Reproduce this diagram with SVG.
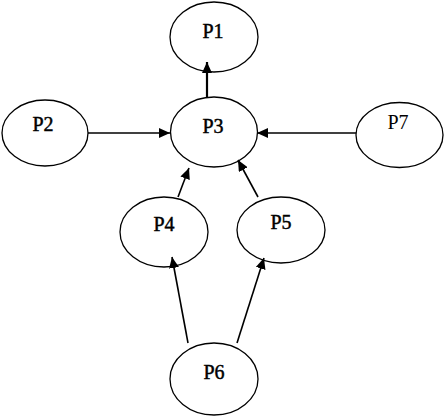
<svg xmlns="http://www.w3.org/2000/svg" width="444" height="416" viewBox="0 0 444 416">
<defs>
<style>
.n ellipse{fill:#fff;stroke:#000;stroke-width:1.3}
.n text{font-family:"Liberation Serif","Times New Roman",serif;font-size:20px;fill:#000;text-anchor:middle;stroke:#000;stroke-width:0.45}
.n text.r{stroke:none}
.e line{stroke:#000;stroke-width:1.6}
</style>
<marker id="ah" markerWidth="11" markerHeight="10" refX="11" refY="5" orient="auto" markerUnits="userSpaceOnUse">
<path d="M0,0 L11,5 L0,10 Z" fill="#000"/>
</marker>
</defs>
<g class="n" id="P1"><ellipse cx="214" cy="37" rx="44" ry="35"/><text x="213" y="38">P1</text></g>
<g class="n" id="P2"><ellipse cx="45" cy="133" rx="43" ry="33"/><text x="43" y="131">P2</text></g>
<g class="n" id="P3"><ellipse cx="214" cy="132" rx="43.5" ry="35"/><text x="213" y="133">P3</text></g>
<g class="n" id="P7"><ellipse cx="399.5" cy="135" rx="43.5" ry="32.5"/><text class="r" x="398" y="129">P7</text></g>
<g class="n" id="P4"><ellipse cx="164" cy="232" rx="44" ry="35"/><text x="164" y="231">P4</text></g>
<g class="n" id="P5"><ellipse cx="281" cy="230" rx="44" ry="33"/><text x="281" y="229">P5</text></g>
<g class="n" id="P6"><ellipse cx="214" cy="379" rx="44" ry="36"/><text x="214" y="379">P6</text></g>
<g class="e" id="connectors">
<line x1="207" y1="97" x2="207" y2="62" marker-end="url(#ah)" style="stroke-width:2.2"/>
<line x1="88" y1="133" x2="170" y2="133" marker-end="url(#ah)"/>
<line x1="356" y1="133" x2="257" y2="133" marker-end="url(#ah)"/>
<line x1="178" y1="197" x2="189" y2="168" marker-end="url(#ah)"/>
<line x1="258" y1="197" x2="238" y2="160" marker-end="url(#ah)"/>
<line x1="188" y1="343" x2="172" y2="257" marker-end="url(#ah)"/>
<line x1="237" y1="343" x2="264" y2="258" marker-end="url(#ah)"/>
</g>
</svg>
